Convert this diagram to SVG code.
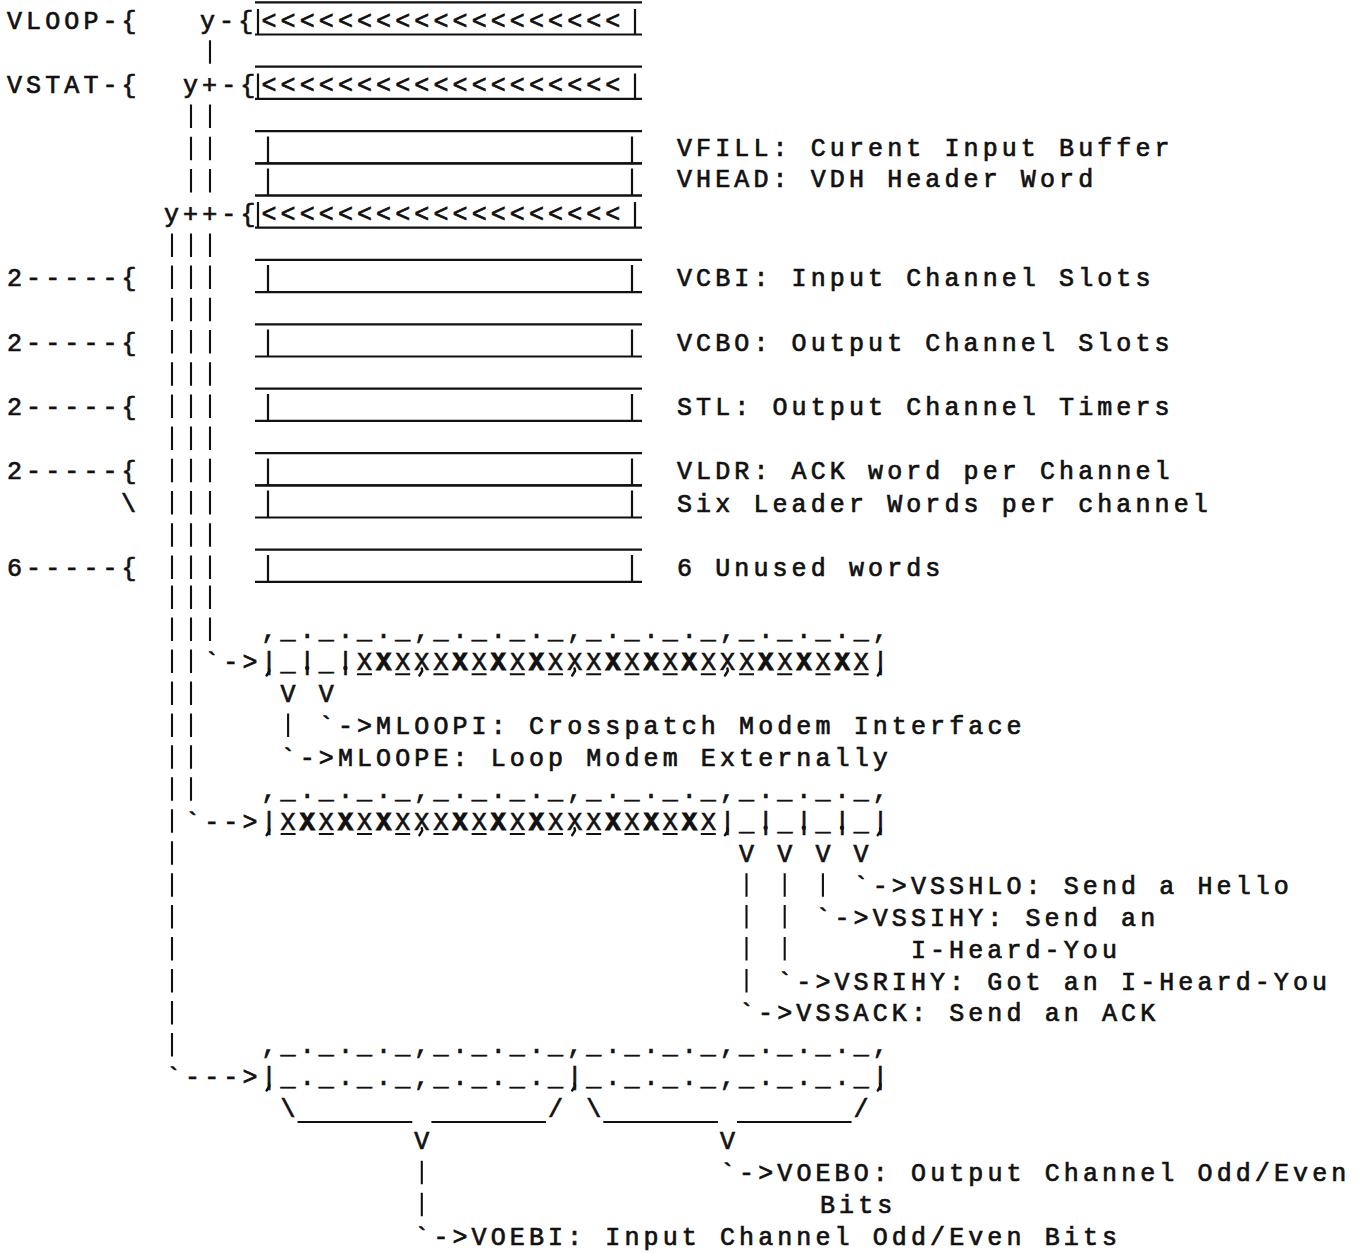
<svg xmlns="http://www.w3.org/2000/svg" width="1369" height="1253" viewBox="0 0 1369 1253" xml:space="preserve">
<style>
.t{font-family:"Liberation Mono","DejaVu Sans Mono",monospace;font-size:25px;letter-spacing:4.1px;fill:#111;stroke:#111;stroke-width:0.7px;white-space:pre}
.k{font-weight:bold;stroke-width:1.1px}
.ln{stroke:#111;stroke-width:2.2;fill:none}
.bar{stroke:#111;stroke-width:2.1;fill:none}
.us{stroke:#111;stroke-width:1.9;fill:none}
.cm{stroke:#111;stroke-width:2.4;fill:none;stroke-linecap:round;stroke-linejoin:round}
.dt{fill:#111}
</style>
<rect x="0" y="0" width="1369" height="1253" fill="#fff"/>

<g id="labels-left">
<text class="t" x="7" y="28.5">VLOOP-{</text>
<text class="t" x="7" y="92.9">VSTAT-{</text>
<text class="t" x="7" y="286.1">2-----{</text>
<text class="t" x="7" y="350.5">2-----{</text>
<text class="t" x="7" y="414.9">2-----{</text>
<text class="t" x="7" y="479.3">2-----{</text>
<text class="t" x="121" y="511.5">\</text>
<text class="t" x="7" y="575.9">6-----{</text>
</g>

<g id="pointers">
<text class="t" x="200" y="28.5">y-{</text>
<text class="t" x="183" y="92.9">y+-{</text>
<text class="t" x="164" y="221.7">y++-{</text>
</g>

<g id="box-vloop">
<path class="ln" d="M255,2.3H642M255,34.5H642M258,9V34.5M635,9V34.5"/>
<text class="t" x="261.5" y="28.5">&lt;&lt;&lt;&lt;&lt;&lt;&lt;&lt;&lt;&lt;&lt;&lt;&lt;&lt;&lt;&lt;&lt;&lt;&lt;</text>
</g>
<g id="box-vstat">
<path class="ln" d="M255,66.7H642M255,98.9H642M258,73.5V98.9M635,73.5V98.9"/>
<text class="t" x="261.5" y="92.9">&lt;&lt;&lt;&lt;&lt;&lt;&lt;&lt;&lt;&lt;&lt;&lt;&lt;&lt;&lt;&lt;&lt;&lt;&lt;</text>
</g>
<g id="box-vfill">
<path class="ln" d="M255,131.1H642M255,163.3H642M268,136.5V163.3M632,136.5V163.3"/>
<text class="t" x="677" y="156.3">VFILL: Curent Input Buffer</text>
</g>
<g id="box-vhead">
<path class="ln" d="M255,163.3H642M255,195.5H642M268,168.5V195.5M632,168.5V195.5"/>
<text class="t" x="677" y="187">VHEAD: VDH Header Word</text>
</g>
<g id="box-vpp">
<path class="ln" d="M255,195.5H642M255,227.7H642M258,202V227.7M635,202V227.7"/>
<text class="t" x="261.5" y="221.7">&lt;&lt;&lt;&lt;&lt;&lt;&lt;&lt;&lt;&lt;&lt;&lt;&lt;&lt;&lt;&lt;&lt;&lt;&lt;</text>
</g>
<g id="box-vcbi">
<path class="ln" d="M255,259.9H642M255,292.1H642M268,265V292.1M632,265V292.1"/>
<text class="t" x="677" y="286.1">VCBI: Input Channel Slots</text>
</g>
<g id="box-vcbo">
<path class="ln" d="M255,324.3H642M255,356.5H642M268,329.5V356.5M632,329.5V356.5"/>
<text class="t" x="677" y="350.5">VCBO: Output Channel Slots</text>
</g>
<g id="box-stl">
<path class="ln" d="M255,388.7H642M255,420.9H642M268,394V420.9M632,394V420.9"/>
<text class="t" x="677" y="414.9">STL: Output Channel Timers</text>
</g>
<g id="box-vldr">
<path class="ln" d="M255,453.1H642M255,485.3H642M268,458.5V485.3M632,458.5V485.3"/>
<text class="t" x="677" y="479.3">VLDR: ACK word per Channel</text>
</g>
<g id="box-leader">
<path class="ln" d="M255,485.3H642M255,517.5H642M268,490.5V517.5M632,490.5V517.5"/>
<text class="t" x="677" y="511.5">Six Leader Words per channel</text>
</g>
<g id="box-unused">
<path class="ln" d="M255,549.7H642M255,581.9H642M268,555V581.9M632,555V581.9"/>
<text class="t" x="677" y="575.9">6 Unused words</text>
</g>

<g id="field-mloop">
<text class="t" x="261.5" y="638.05">,_._._._,_._._._,_._._._,_._._._,</text>
<text class="t" x="261.5" y="670">|_|_|X<tspan class="k">X</tspan>XXX<tspan class="k">X</tspan>X<tspan class="k">X</tspan>X<tspan class="k">X</tspan>XXX<tspan class="k">X</tspan>X<tspan class="k">X</tspan>X<tspan class="k">X</tspan>XXX<tspan class="k">X</tspan>X<tspan class="k">X</tspan>X<tspan class="k">X</tspan>X|</text>
<path class="us" d="M357,674.3h15M395.2,674.3h15M433.4,674.3h15M471.6,674.3h15M509.8,674.3h15M548,674.3h15M586.2,674.3h15M624.4,674.3h15M662.6,674.3h15M700.8,674.3h15M739,674.3h15M777.2,674.3h15M815.4,674.3h15M853.6,674.3h15"/>
<path class="cm" d="M269,668.5l0.4,2.5l-2.8,4.5M421.8,668.5l0.4,2.5l-2.8,4.5M574.6,668.5l0.4,2.5l-2.8,4.5M727.4,668.5l0.4,2.5l-2.8,4.5M880.2,668.5l0.4,2.5l-2.8,4.5"/>
<circle class="dt" cx="307.2" cy="668" r="2.2"/>
<circle class="dt" cx="345.4" cy="668" r="2.2"/>
<text class="t" x="280.6" y="701.95">V V</text>
</g>
<g id="label-mloopi"><text class="t" x="318.8" y="733.9">`-&gt;MLOOPI: Crosspatch Modem Interface</text></g>
<g id="label-mloope"><text class="t" x="280.6" y="765.85">`-&gt;MLOOPE: Loop Modem Externally</text></g>

<g id="field-vss">
<text class="t" x="261.5" y="797.8">,_._._._,_._._._,_._._._,_._._._,</text>
<text class="t" x="261.5" y="829.75">|X<tspan class="k">X</tspan>X<tspan class="k">X</tspan>X<tspan class="k">X</tspan>XXX<tspan class="k">X</tspan>X<tspan class="k">X</tspan>X<tspan class="k">X</tspan>XXX<tspan class="k">X</tspan>X<tspan class="k">X</tspan>X<tspan class="k">X</tspan>X|_|_|_|_|</text>
<path class="us" d="M280.6,834h15M318.8,834h15M357,834h15M395.2,834h15M433.4,834h15M471.6,834h15M509.8,834h15M548,834h15M586.2,834h15M624.4,834h15M662.6,834h15M700.8,834h15"/>
<path class="cm" d="M269,828.2l0.4,2.5l-2.8,4.5M421.8,828.2l0.4,2.5l-2.8,4.5M574.6,828.2l0.4,2.5l-2.8,4.5M727.4,828.2l0.4,2.5l-2.8,4.5M880.2,828.2l0.4,2.5l-2.8,4.5"/>
<circle class="dt" cx="765.6" cy="827.7" r="2.2"/>
<circle class="dt" cx="803.8" cy="827.7" r="2.2"/>
<circle class="dt" cx="842" cy="827.7" r="2.2"/>
<text class="t" x="739" y="861.7">V V V V</text>
</g>
<g id="label-vsshlo"><text class="t" x="853.6" y="893.65">`-&gt;VSSHLO: Send a Hello</text></g>
<g id="label-vssihy">
<text class="t" x="815.4" y="925.6">`-&gt;VSSIHY: Send an</text>
<text class="t" x="910.9" y="957.55">I-Heard-You</text>
</g>
<g id="label-vsrihy"><text class="t" x="777.2" y="989.5">`-&gt;VSRIHY: Got an I-Heard-You</text></g>
<g id="label-vssack"><text class="t" x="739" y="1021.45">`-&gt;VSSACK: Send an ACK</text></g>

<g id="field-voeb">
<text class="t" x="261.5" y="1053.4">,_._._._,_._._._,_._._._,_._._._,</text>
<text class="t" x="261.5" y="1085.35">|_._._._,_._._._|_._._._,_._._._|</text>
<path class="cm" d="M269,1083.5l0.4,2.5l-2.8,4.5M574.6,1083.5l0.4,2.5l-2.8,4.5M880.2,1083.5l0.4,2.5l-2.8,4.5"/>
<text class="t" x="280.6" y="1117.3">\</text>
<text class="t" x="548" y="1117.3">/</text>
<text class="t" x="586.2" y="1117.3">\</text>
<text class="t" x="853.6" y="1117.3">/</text>
<path class="ln" d="M297.6,1122H412.3M431.4,1122H546M603.3,1122H717.9M737,1122H851.6"/>
<text class="t" x="414.3" y="1149.25">V</text>
<text class="t" x="719.9" y="1149.25">V</text>
</g>
<g id="label-voebo">
<text class="t" x="720" y="1181.2">`-&gt;VOEBO: Output Channel Odd/Even</text>
<text class="t" x="820" y="1213.15">Bits</text>
</g>
<g id="label-voebi"><text class="t" x="414.3" y="1245.1">`-&gt;VOEBI: Input Channel Odd/Even Bits</text></g>

<g id="connectors">
<text class="t" x="204.2" y="670">`-&gt;</text>
<text class="t" x="185.1" y="829.75">`--&gt;</text>
<text class="t" x="166" y="1085.35">`---&gt;</text>
<path class="bar" d="M210,40.2V63.7
M191,104.6V128.1M191,136.8V160.3M191,169V192.5
M210,104.6V128.1M210,136.8V160.3M210,169V192.5
M172,233.4V256.9M172,265.6V289.1M172,297.8V321.3M172,330V353.5M172,362.2V385.7M172,394.4V417.9M172,426.6V450.1M172,458.8V482.3M172,491V514.5M172,523.2V546.7M172,555.4V578.9M172,585.6V609.1M172,617.55V641.05M172,649.5V673M172,681.45V704.95M172,713.4V736.9M172,745.35V768.85M172,777.3V800.8M172,809.25V832.75M172,841.2V864.7M172,873.15V896.65M172,905.1V928.6M172,937.05V960.55M172,969V992.5M172,1000.95V1024.45M172,1032.9V1056.4
M191,233.4V256.9M191,265.6V289.1M191,297.8V321.3M191,330V353.5M191,362.2V385.7M191,394.4V417.9M191,426.6V450.1M191,458.8V482.3M191,491V514.5M191,523.2V546.7M191,555.4V578.9M191,585.6V609.1M191,617.55V641.05M191,649.5V673M191,681.45V704.95M191,713.4V736.9M191,745.35V768.85M191,777.3V800.8
M210,233.4V256.9M210,265.6V289.1M210,297.8V321.3M210,330V353.5M210,362.2V385.7M210,394.4V417.9M210,426.6V450.1M210,458.8V482.3M210,491V514.5M210,523.2V546.7M210,555.4V578.9M210,585.6V609.1M210,617.55V641.05
M288.1,713.4V736.9
M746.5,873.15V896.65M746.5,905.1V928.6M746.5,937.05V960.55M746.5,969V992.5
M784.7,873.15V896.65M784.7,905.1V928.6M784.7,937.05V960.55
M822.9,873.15V896.65
M421.8,1160.7V1184.2M421.8,1192.65V1216.15"/>
</g>
</svg>
